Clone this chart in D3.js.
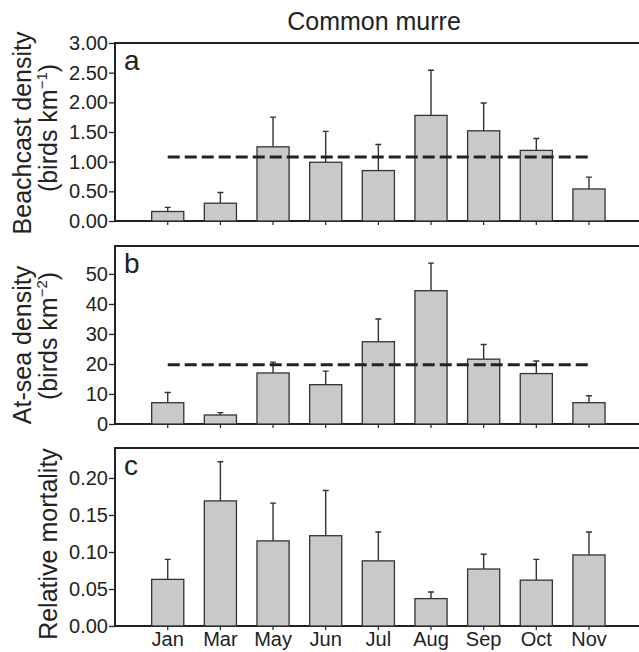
<!DOCTYPE html>
<html>
<head>
<meta charset="utf-8">
<script src="https://cdn.jsdelivr.net/npm/d3@7"></script>
<style>
  body { margin: 0; background: #fff; }
  svg { display: block; font-family: "Liberation Sans", Arial, sans-serif; }
  .tick text { font-size: 20px; fill: #222; }
  .tick line, .domain { stroke: #222; }
</style>
</head>
<body>
<svg width="639" height="652"></svg>
<script>
var svg = d3.select("svg"),
    width = +svg.attr("width");

var months = ["Jan", "Mar", "May", "Jun", "Jul", "Aug", "Sep", "Oct", "Nov"];

// a: beachcast density (birds km-1)
var beachMean = [0.16, 0.30, 1.25, 0.99, 0.85, 1.78, 1.52, 1.19, 0.54];
var beachErr  = [0.23, 0.48, 1.75, 1.51, 1.29, 2.54, 1.99, 1.39, 0.74];
var beachAvg = 1.08;
var beachTicks = [0, 0.5, 1, 1.5, 2, 2.5, 3];

// b: at-sea density (birds km-2)
var seaMean = [7.1, 3.0, 17.0, 13.1, 27.4, 44.4, 21.6, 16.8, 7.1];
var seaErr  = [10.5, 3.8, 20.6, 17.6, 35.0, 53.6, 26.5, 21.0, 9.4];
var seaAvg = 19.7;
var seaTicks = [0, 10, 20, 30, 40, 50];

// c: relative mortality
var mortMean = [0.063, 0.169, 0.115, 0.122, 0.088, 0.037, 0.077, 0.062, 0.096];
var mortErr  = [0.090, 0.222, 0.166, 0.183, 0.127, 0.046, 0.097, 0.090, 0.127];
var mortTicks = [0, 0.05, 0.10, 0.15, 0.20];

var left = 115;

var x = d3.scaleBand()
    .domain(months)
    .range([141.4, 615.3])
    .paddingInner(0.39)
    .paddingOuter(0.195);

var panels = [
  { letter: "a", top: 43, bottom: 221, max: 3, ticks: beachTicks, fmt: d3.format(".2f"),
    mean: beachMean, err: beachErr, avg: beachAvg,
    label1: "Beachcast density", label2: ["(birds km", "\u22121", ")"], c1: 133, c2: 128 },
  { letter: "b", top: 246, bottom: 424, max: 59.3, ticks: seaTicks, fmt: d3.format("d"),
    mean: seaMean, err: seaErr, avg: seaAvg,
    label1: "At-sea density", label2: ["(birds km", "\u22122", ")"], c1: 345, c2: 336 },
  { letter: "c", top: 448, bottom: 626, max: 0.2405, ticks: mortTicks, fmt: d3.format(".2f"),
    mean: mortMean, err: mortErr, avg: null,
    label1: null, label2: ["Relative mortality"], c1: 0, c2: 544 }
];

svg.append("text")
    .attr("x", 374)
    .attr("y", 30)
    .attr("text-anchor", "middle")
    .attr("font-size", 25)
    .attr("fill", "#222")
    .text("Common murre");

panels.forEach(function(p, pi) {
  var y = d3.scaleLinear()
      .domain([0, p.max])
      .range([p.bottom, p.top]);

  var g = svg.append("g");

  // frame (right side runs off the picture)
  g.append("path")
      .attr("d", "M" + (width + 5) + "," + p.top + "H" + left + "V" + p.bottom + "H" + (width + 5))
      .attr("fill", "none")
      .attr("stroke", "#222")
      .attr("stroke-width", 2);

  g.append("g")
      .attr("transform", "translate(" + left + ",0)")
      .call(d3.axisLeft(y).tickValues(p.ticks).tickFormat(p.fmt).tickSize(6).tickPadding(1))
      .call(function(a) { a.select(".domain").remove(); })
      .call(function(a) { a.selectAll(".tick line").attr("stroke-width", 1.3); });

  var xa = g.append("g")
      .attr("transform", "translate(0," + p.bottom + ")")
      .call(d3.axisBottom(x).tickSize(4).tickPadding(2));
  xa.select(".domain").remove();
  xa.selectAll(".tick line").attr("stroke-width", 1.2).attr("stroke", "#555");
  if (pi < 2) xa.selectAll(".tick text").remove();
  else xa.selectAll(".tick text").attr("font-size", 21);

  // error bars
  g.selectAll(".err")
      .data(months)
      .enter().append("path")
      .attr("d", function(m, i) {
        var cx = x(m) + x.bandwidth() / 2;
        return "M" + cx + "," + y(p.mean[i]) + "V" + y(p.err[i]) +
               "M" + (cx - 3) + "," + y(p.err[i]) + "H" + (cx + 3);
      })
      .attr("fill", "none")
      .attr("stroke", "#333")
      .attr("stroke-width", 1.4);

  g.selectAll(".bar")
      .data(months)
      .enter().append("rect")
      .attr("x", function(m) { return x(m); })
      .attr("y", function(m, i) { return y(p.mean[i]); })
      .attr("width", x.bandwidth())
      .attr("height", function(m, i) { return p.bottom - y(p.mean[i]); })
      .attr("fill", "#c8c9cb")
      .attr("stroke", "#333")
      .attr("stroke-width", 1.3);

  if (p.avg != null) {
    g.append("line")
        .attr("x1", x(months[0]) + x.bandwidth() / 2)
        .attr("x2", x(months[months.length - 1]) + x.bandwidth() / 2)
        .attr("y1", y(p.avg))
        .attr("y2", y(p.avg))
        .attr("stroke", "#222")
        .attr("stroke-width", 3)
        .attr("stroke-dasharray", "12,5");
  }

  g.append("text")
      .attr("x", 124)
      .attr("y", p.top + 27)
      .attr("font-size", 28)
      .attr("fill", "#222")
      .text(p.letter);

  if (p.label1) {
    g.append("text")
        .attr("transform", "translate(31," + p.c1 + ") rotate(-90)")
        .attr("text-anchor", "middle")
        .attr("font-size", 25)
        .attr("fill", "#222")
        .text(p.label1);
  }
  var t2 = g.append("text")
      .attr("transform", "translate(57," + p.c2 + ") rotate(-90)")
      .attr("text-anchor", "middle")
      .attr("font-size", 25)
      .attr("fill", "#222");
  t2.append("tspan").text(p.label2[0]);
  if (p.label2.length > 1) {
    t2.append("tspan").attr("font-size", 15).attr("dy", -10).text(p.label2[1]);
    t2.append("tspan").attr("dy", 10).text(p.label2[2]);
  }
});
</script>
</body>
</html>
